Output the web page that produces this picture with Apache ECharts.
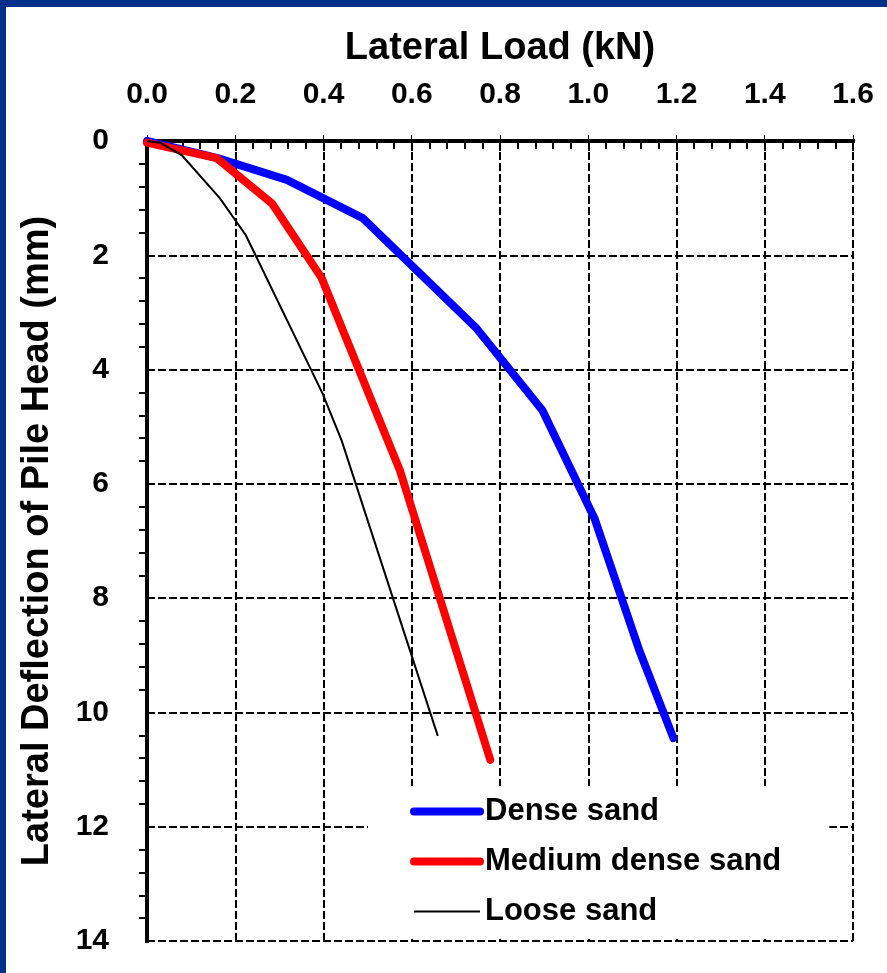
<!DOCTYPE html>
<html>
<head>
<meta charset="utf-8">
<script src="https://cdn.jsdelivr.net/npm/echarts@6/dist/echarts.min.js"></script>
<style>
  html, body { margin: 0; padding: 0; }
  .frame {
    position: absolute; left: 0; top: 0;
    width: 887px; height: 973px;
    background: #003087;
  }
  .chart-box {
    position: absolute; left: 6px; top: 7px;
    width: 881px; height: 966px;
    background: #ffffff;
  }
</style>
</head>
<body>
<div class="frame"><div id="chart" class="chart-box"></div></div>
<script>
// lateral load (kN), deflection (mm)
const denseLoad = [0, 0.16, 0.317, 0.489, 0.747, 0.896, 1.014, 1.116, 1.193]
const denseDefl = [0, 0.3, 0.68, 1.35, 3.28, 4.71, 6.6, 8.92, 10.45]

const mediumLoad = [0, 0.158, 0.283, 0.396, 0.573, 0.778]
const mediumDefl = [0.03, 0.3, 1.09, 2.4, 5.76, 10.83]

const looseLoad = [0, 0.03, 0.079, 0.165, 0.224, 0.398, 0.441, 0.659]
const looseDefl = [0, 0.03, 0.25, 1.0, 1.65, 4.42, 5.24, 10.41]

const seriesNames = ["Dense sand", "Medium dense sand", "Loose sand"]

const pairs = (xs, ys) => xs.map((x, i) => [x, ys[i]])

const font = "Arial, 'Liberation Sans', sans-serif"
const dash = { color: "#000", width: 2, type: [8, 3] }
const edge = { show: true, lineStyle: { color: "#000", width: 4, cap: "square" } }

const chart = echarts.init(document.getElementById("chart"))

const option = {
  backgroundColor: "#ffffff",
  animation: false,
  textStyle: { fontFamily: font },
  grid: { left: 141, top: 134, right: 34, bottom: 32 },
  legend: {
    orient: "vertical",
    left: 362,
    top: 779,
    padding: [10, 48, 12, 42],
    backgroundColor: "#ffffff",
    itemWidth: 66,
    itemHeight: 30,
    itemGap: 19,
    data: seriesNames,
    lineStyle: { width: "inherit" },
    itemStyle: { opacity: 0 },
    textStyle: { color: "#000", fontSize: 31, fontWeight: "bold", fontFamily: font },
  },
  xAxis: [
    {
      type: "value",
      position: "top",
      min: 0,
      max: 1.6,
      interval: 0.2,
      name: "Lateral Load (kN)",
      nameLocation: "middle",
      nameGap: 73,
      nameTextStyle: { color: "#000", fontSize: 38, fontWeight: "bold", fontFamily: font },
      axisLine: edge,
      axisTick: { show: true, inside: true, length: 10, lineStyle: { color: "#000", width: 2 } },
      minorTick: { show: true, splitNumber: 5, length: 8, lineStyle: { color: "#000", width: 2 } },
      splitLine: { show: true, lineStyle: dash },
      axisLabel: {
        color: "#000",
        fontSize: 30,
        fontWeight: "bold",
        fontFamily: font,
        margin: 31,
        formatter: (v) => v.toFixed(1),
      },
    },
    {
      type: "value",
      position: "bottom",
      min: 0,
      max: 1.6,
      interval: 0.2,
      axisLine: edge,
      axisTick: { show: true, inside: true, length: 6, lineStyle: { color: "#000", width: 1 } },
      splitLine: { show: false },
      axisLabel: { show: false },
    },
  ],
  yAxis: [
    {
      type: "value",
      inverse: true,
      min: 0,
      max: 14,
      interval: 2,
      name: "Lateral Deflection of Pile Head (mm)",
      nameLocation: "middle",
      nameGap: 90,
      nameTextStyle: { color: "#000", fontSize: 38, fontWeight: "bold", fontFamily: font },
      axisLine: edge,
      axisTick: { show: false },
      minorTick: { show: true, splitNumber: 5, length: 8, lineStyle: { color: "#000", width: 2 } },
      splitLine: { show: true, lineStyle: dash },
      axisLabel: { color: "#000", fontSize: 30, fontWeight: "bold", fontFamily: font, margin: 38 },
    },
    {
      type: "value",
      position: "right",
      inverse: true,
      min: 0,
      max: 14,
      interval: 2,
      axisLine: edge,
      axisTick: { show: false },
      splitLine: { show: false },
      axisLabel: { show: false },
    },
  ],
  series: [
    {
      name: seriesNames[0],
      type: "line",
      data: pairs(denseLoad, denseDefl),
      symbol: "none",
      lineStyle: { color: "#0000ff", width: 8, cap: "round", join: "round" },
      itemStyle: { color: "#0000ff" },
    },
    {
      name: seriesNames[1],
      type: "line",
      data: pairs(mediumLoad, mediumDefl),
      symbol: "none",
      lineStyle: { color: "#ff0000", width: 8, cap: "round", join: "round" },
      itemStyle: { color: "#ff0000" },
    },
    {
      name: seriesNames[2],
      type: "line",
      data: pairs(looseLoad, looseDefl),
      symbol: "none",
      lineStyle: { color: "#000000", width: 2, join: "round" },
      itemStyle: { color: "#000000" },
    },
  ],
}

chart.setOption(option)
</script>
</body>
</html>
